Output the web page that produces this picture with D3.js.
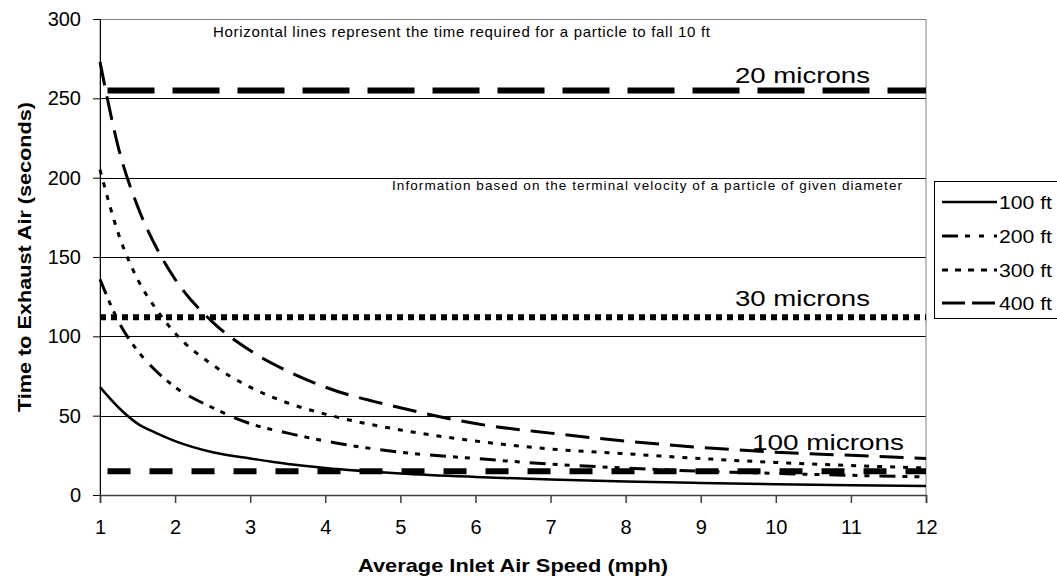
<!DOCTYPE html>
<html>
<head>
<meta charset="utf-8">
<script src="https://cdn.jsdelivr.net/npm/d3@7"></script>
<style>
  body { margin: 0; background: #fff; }
  svg { display: block; font-family: "Liberation Sans", Arial, sans-serif; }
</style>
</head>
<body>
<svg id="chart" width="1057" height="580"></svg>
<script>
// ---- data ----
const speeds = [1, 1.25, 1.5, 1.75, 2, 2.5, 3, 3.5, 4, 5, 6, 7, 8, 9, 10, 11, 12];
const ft100 = [68, 55, 45, 39, 34, 27, 23, 19.5, 17, 13.6, 11.4, 9.7, 8.5, 7.6, 6.8, 6.2, 5.7];
const ft200 = [136, 109, 91, 78, 68, 55, 45, 39, 34, 27, 23, 19.5, 17, 15, 13.6, 12.4, 11.4];
const ft300 = [205, 164, 136, 117, 102, 82, 68, 58, 51, 41, 34, 29, 26, 23, 20.5, 18.6, 17];
const ft400 = [273, 218, 182, 156, 136, 109, 91, 78, 68, 55, 45, 39, 34, 30, 27, 25, 23];
const seriesNames = ["100 ft", "200 ft", "300 ft", "400 ft"];
const refLabels = ["20 microns", "30 microns", "100 microns"];
const refValues = [255, 112, 15];
const refStart = [1.1, 1, 1.1];
const refEnd = [12, 12, 12];
const xTicks = [1, 2, 3, 4, 5, 6, 7, 8, 9, 10, 11, 12];
const yTicks = [0, 50, 100, 150, 200, 250, 300];
const note1 = "Horizontal lines represent the time required for a particle to fall 10 ft";
const note2 = "Information based on the terminal velocity of a particle of given diameter";
const xTitle = "Average Inlet Air Speed (mph)";
const yTitle = "Time to Exhaust Air (seconds)";

// ---- styles ----
const seriesData = [ft100, ft200, ft300, ft400];
const seriesDash = [null, "16,7,5,7,5,10", "5,8", "24,11"];
const legendDash = [null, "16,7,5,9,5,10", "6,7", "23,7"];
const seriesWidth = [2.5, 3, 3, 3];
const refDash = ["47,18", "6,5", "23,19"];
const refWidth = [6, 6, 6];

const svg = d3.select("#chart");
const x = d3.scaleLinear().domain([1, 12]).range([100, 926]);
const y = d3.scaleLinear().domain([0, 300]).range([495, 19]);

// gridlines
svg.append("g").selectAll("line").data(yTicks.filter(d => d > 0 && d < 300)).join("line")
  .attr("x1", x(1)).attr("x2", x(12))
  .attr("y1", d => Math.round(y(d)) + 0.5).attr("y2", d => Math.round(y(d)) + 0.5)
  .attr("stroke", "#000").attr("stroke-width", 1);

// plot border
svg.append("rect")
  .attr("x", x(1)).attr("y", Math.round(y(300)) + 0.5)
  .attr("width", x(12) - x(1)).attr("height", y(0) - y(300))
  .attr("fill", "none").attr("stroke", "#808080").attr("stroke-width", 1);

// y axis
const yAxis = d3.axisLeft(y).tickValues(yTicks).tickSize(7).tickPadding(12);
const gy = svg.append("g").attr("transform", `translate(${x(1)},0)`).call(yAxis);
gy.select(".domain").attr("stroke", "#000");
gy.selectAll(".tick line").attr("stroke", "#000");
gy.selectAll(".tick text").attr("font-size", 20).attr("fill", "#000")
  .attr("font-family", "Liberation Sans, Arial, sans-serif");

// x axis
const xAxis = d3.axisBottom(x).tickValues(xTicks).tickSize(8).tickPadding(17);
const gx = svg.append("g").attr("transform", `translate(0,${y(0)})`).call(xAxis);
gx.select(".domain").attr("stroke", "#404040").attr("stroke-width", 1.5);
gx.selectAll(".tick line").attr("stroke", "#404040").attr("stroke-width", 1.5);
gx.selectAll(".tick text").attr("font-size", 20).attr("fill", "#000")
  .attr("font-family", "Liberation Sans, Arial, sans-serif");

// reference horizontal lines
refValues.forEach((v, i) => {
  svg.append("line")
    .attr("x1", x(refStart[i])).attr("x2", x(refEnd[i]))
    .attr("y1", y(v)).attr("y2", y(v))
    .attr("stroke", "#000").attr("stroke-width", refWidth[i])
    .attr("stroke-dasharray", refDash[i]);
});

// curves
const line = d3.line().x(d => x(d[0])).y(d => y(d[1])).curve(d3.curveMonotoneX);
seriesData.forEach((vals, i) => {
  svg.append("path")
    .datum(speeds.map((s, j) => [s, vals[j]]))
    .attr("d", line)
    .attr("fill", "none").attr("stroke", "#000")
    .attr("stroke-width", seriesWidth[i])
    .attr("stroke-dasharray", seriesDash[i]);
});

// annotations
svg.append("text").attr("x", 213).attr("y", 37).attr("font-size", 15)
  .attr("textLength", 497).attr("lengthAdjust", "spacing").text(note1);
svg.append("text").attr("x", 392).attr("y", 190).attr("font-size", 13.5)
  .attr("textLength", 510).attr("lengthAdjust", "spacing").text(note2);
const refLabelX = [735, 735, 752];
const refLabelY = [83, 306, 450];
const refLabelW = [135, 135, 152];
refLabels.forEach((t, i) => {
  svg.append("text").attr("x", refLabelX[i]).attr("y", refLabelY[i])
    .attr("font-size", 22).attr("textLength", refLabelW[i])
    .attr("lengthAdjust", "spacingAndGlyphs").text(t);
});

// axis titles
svg.append("text").attr("x", x(6.5)).attr("y", 572).attr("text-anchor", "middle")
  .attr("font-size", 19).attr("font-weight", "bold")
  .attr("textLength", 310).attr("lengthAdjust", "spacingAndGlyphs").text(xTitle);
svg.append("text").attr("transform", "translate(31,257) rotate(-90)")
  .attr("text-anchor", "middle").attr("font-size", 19).attr("font-weight", "bold")
  .attr("textLength", 310).attr("lengthAdjust", "spacingAndGlyphs")
  .text(yTitle);

// legend
svg.append("rect").attr("x", 934.5).attr("y", 181.5).attr("width", 130).attr("height", 137)
  .attr("fill", "#fff").attr("stroke", "#000").attr("stroke-width", 1);
const legY = [202, 236, 270, 303];
seriesNames.forEach((n, i) => {
  svg.append("line").attr("x1", 942).attr("x2", 997)
    .attr("y1", legY[i]).attr("y2", legY[i])
    .attr("stroke", "#000").attr("stroke-width", seriesWidth[i])
    .attr("stroke-dasharray", legendDash[i]);
  svg.append("text").attr("x", 999).attr("y", legY[i] + 6.5).attr("font-size", 18)
    .attr("textLength", 53).attr("lengthAdjust", "spacingAndGlyphs").text(n);
});
</script>
</body>
</html>
